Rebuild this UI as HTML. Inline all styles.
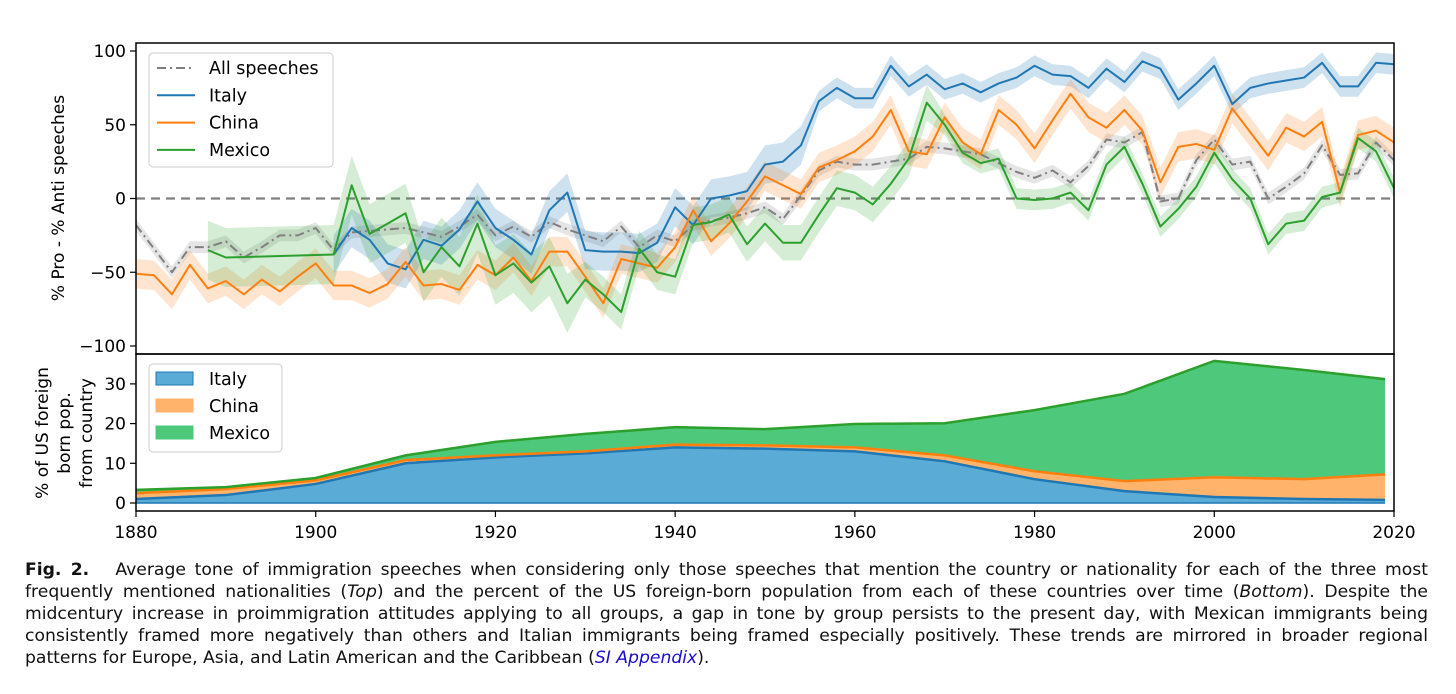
<!DOCTYPE html>
<html><head><meta charset="utf-8"><style>
body{margin:0;background:#fff;width:1456px;height:694px;overflow:hidden;font-family:"DejaVu Sans","Liberation Sans",sans-serif}
.cap{position:absolute;left:25px;width:1403px;font-family:"DejaVu Sans","Liberation Sans",sans-serif;font-size:17.2px;color:#111;text-align:justify;text-align-last:justify;white-space:nowrap;line-height:22px}
.last{text-align-last:left}
</style></head><body>
<svg id="chart" width="1456" height="560" style="position:absolute;left:0;top:0" xmlns="http://www.w3.org/2000/svg"></svg>
<div class="cap" style="top:559px"><b>Fig. 2.</b>&nbsp;&nbsp; Average tone of immigration speeches when considering only those speeches that mention the country or nationality for each of the three most</div>
<div class="cap" style="top:581px">frequently mentioned nationalities (<i>Top</i>) and the percent of the US foreign-born population from each of these countries over time (<i>Bottom</i>). Despite the</div>
<div class="cap" style="top:603px">midcentury increase in proimmigration attitudes applying to all groups, a gap in tone by group persists to the present day, with Mexican immigrants being</div>
<div class="cap" style="top:625px">consistently framed more negatively than others and Italian immigrants being framed especially positively. These trends are mirrored in broader regional</div>
<div class="cap last" style="top:647px">patterns for Europe, Asia, and Latin American and the Caribbean (<i style="color:#1a0dcc">SI Appendix</i>).</div>
<script>
const years=[];for(let y=1880;y<=2020;y+=2)years.push(y);
const allSpeeches=[-18,-34,-50,-33,-33,-29,-40,-33,-25,-25,-20,-35,-23,-22,-21,-20,-23,-26,-19,-11,-25,-19,-26,-16,-21,-25,-29,-19,-33,-25,-29,-18,-15,-13,-10,-6,-14,2,19,25,23,23,25,27,35,34,32,30,24,18,14,19,11,22,40,38,45,-2,0,26,40,23,25,0,8,17,36,16,17,38,26];
const italy=[null,null,null,null,null,null,null,null,null,null,null,-38,-20,-28,-44,-48,-28,-32,-21,-2,-20,-28,-38,-8,4,-35,-36,-36,-37,-30,-6,-18,0,2,5,23,25,36,66,75,68,68,90,76,84,74,78,72,78,82,90,84,83,75,88,79,93,88,67,78,90,64,75,78,80,82,92,76,76,92,91];
const china=[-51,-52,-65,-45,-61,-56,-65,-55,-63,-53,-44,-59,-59,-64,-58,-43,-59,-58,-62,-45,-52,-40,-56,-36,-36,-53,-71,-41,-44,-47,-33,-8,-29,-17,-2,15,9,3,21,26,32,42,60,32,30,55,38,30,60,50,34,53,71,55,48,60,46,11,35,37,33,61,45,29,48,42,52,4,43,46,38];
const mexico=[null,null,null,null,-35,-40,null,null,null,null,null,-38,9,-24,-17,-10,-50,-33,-46,-17,-52,-44,-57,-46,-71,-55,-65,-77,-34,-50,-53,-18,-16,-11,-31,-17,-30,-30,-11,7,4,-4,10,27,65,50,31,24,27,0,-1,0,4,-8,23,35,10,-19,-7,8,31,13,0,-31,-17,-15,1,4,41,32,7];
const popYears=[1880,1890,1900,1910,1920,1930,1940,1950,1960,1970,1980,1990,2000,2010,2019];
const popItaly=[1,2,4.8,10,11.5,12.5,14,13.7,13,10.5,6,3,1.5,1,0.8];
const popChina=[1.5,1.5,0.9,0.8,0.5,0.5,0.7,0.8,1,1.5,2,2.5,5,5,6.4];
const popMexico=[0.8,0.5,0.6,1.2,3.4,4.4,4.4,4.1,5.9,8.1,15.4,22,29.3,27.5,24];
const topTicks=[100,50,0,-50,-100];
const botTicks=[0,10,20,30];
const xTicks=[1880,1900,1920,1940,1960,1980,2000,2020];

const NS='http://www.w3.org/2000/svg';const svg=document.getElementById('chart');
const L=136,R=1394,T=43,M=354,B=511;
const X=y=>L+(y-1880)*(R-L)/140;
const Y=v=>198.5-v*1.475;
const Yb=v=>503-v*3.97;
function mk(tag,at,parent){const e=document.createElementNS(NS,tag);for(const k in at)e.setAttribute(k,at[k]);(parent||svg).appendChild(e);return e;}
function ci(series,yr){if(series==='gray')return 4;if(series==='italy')return yr<1956?13:7;if(series==='china')return 10;return yr<1930?20:(yr<1970?12:7);}
const series=[
 {n:'gray',d:allSpeeches,c:'#7f7f7f',band:'rgba(127,127,127,0.2)',dash:'9,4,2,4'},
 {n:'italy',d:italy,c:'#1f77b4',band:'rgba(31,119,180,0.22)'},
 {n:'china',d:china,c:'#ff7f0e',band:'rgba(255,127,14,0.2)'},
 {n:'mexico',d:mexico,c:'#2ca02c',band:'rgba(44,160,44,0.2)'}];
let z=mk('line',{x1:L,x2:R,y1:Y(0),y2:Y(0),stroke:'#808080','stroke-width':2.2,'stroke-dasharray':'9,6'});


series.forEach(s=>{
 const pts=[];s.d.forEach((v,i)=>{if(v!==null)pts.push([years[i],v]);});
 const up=pts.map(p=>X(p[0])+','+Y(p[1]+ci(s.n,p[0])));
 const dn=pts.slice().reverse().map(p=>X(p[0])+','+Y(p[1]-ci(s.n,p[0])));
 const b=mk('polygon',{points:up.concat(dn).join(' '),fill:s.band});
 
 
});
series.forEach(s=>{
 const pts=[];s.d.forEach((v,i)=>{if(v!==null)pts.push(X(years[i])+','+Y(v));});
 const at={points:pts.join(' '),fill:'none',stroke:s.c,'stroke-width':2,'stroke-linejoin':'round'};
 if(s.dash)at['stroke-dasharray']=s.dash;
 const l=mk('polyline',at);
 
 
});
const t1=popItaly, t2=popItaly.map((v,i)=>v+popChina[i]), t3=t2.map((v,i)=>v+popMexico[i]);
function area(lo,hi,fill,name){const p=popYears.map((y,i)=>X(y)+','+Yb(hi[i])).concat(popYears.slice().reverse().map((y,j)=>{const i=popYears.length-1-j;return X(y)+','+Yb(lo?lo[i]:0);}));
 const a=mk('polygon',{points:p.join(' '),fill:fill});}
area(null,t1,'#5aabd6','italy-area');area(t1,t2,'#ffb36b','china-area');area(t2,t3,'#4ec87a','mexico-area');
[[t1,'#1f77b4','italy'],[t2,'#ff7f0e','china'],[t3,'#2ca02c','mexico']].forEach(a=>{
 const l=mk('polyline',{points:popYears.map((y,i)=>X(y)+','+Yb(a[0][i])).join(' '),fill:'none',stroke:a[1],'stroke-width':2.5});
 
 });
mk('line',{x1:X(1880),x2:X(2019),y1:Yb(0),y2:Yb(0),stroke:'#1f77b4','stroke-width':1.5});
const f1=mk('rect',{x:L,y:T,width:R-L,height:M-T,fill:'none',stroke:'#000','stroke-width':1.5});

const f2=mk('rect',{x:L,y:M,width:R-L,height:B-M,fill:'none',stroke:'#000','stroke-width':1.5});

topTicks.forEach(v=>{mk('line',{x1:L-6,x2:L,y1:Y(v),y2:Y(v),stroke:'#000','stroke-width':1.2});
 const t=mk('text',{x:L-10,y:Y(v)+6,'text-anchor':'end','font-size':17});t.textContent=v<0?'\u2212'+(-v):v;
 });
botTicks.forEach(v=>{mk('line',{x1:L-6,x2:L,y1:Yb(v),y2:Yb(v),stroke:'#000','stroke-width':1.2});
 const t=mk('text',{x:L-10,y:Yb(v)+6,'text-anchor':'end','font-size':17});t.textContent=v;
 });
xTicks.forEach(v=>{mk('line',{x1:X(v),x2:X(v),y1:B,y2:B+6,stroke:'#000','stroke-width':1.2});
 const t=mk('text',{x:X(v),y:B+27,'text-anchor':'middle','font-size':17});t.textContent=v;
 });
function txt(s,at,name){const t=mk('text',at);t.textContent=s;return t;}
txt('% Pro - % Anti speeches',{x:0,y:0,transform:'translate(64,198) rotate(-90)','text-anchor':'middle','font-size':17},'top-y-axis-title');
txt('% of US foreign',{x:0,y:0,transform:'translate(48,433) rotate(-90)','text-anchor':'middle','font-size':17},'bottom-y-axis-title-line1');
txt('born pop.',{x:0,y:0,transform:'translate(70,433) rotate(-90)','text-anchor':'middle','font-size':17},'bottom-y-axis-title-line2');
txt('from country',{x:0,y:0,transform:'translate(92,433) rotate(-90)','text-anchor':'middle','font-size':17},'bottom-y-axis-title-line3');
const lg=mk('rect',{x:149,y:53,width:184,height:114,rx:4,fill:'#fff','fill-opacity':0.85,stroke:'#ccc'});

series.forEach((s,i)=>{const yy=68+i*27.3;const at={x1:157,x2:195,y1:yy,y2:yy,stroke:s.c,'stroke-width':2};if(s.dash)at['stroke-dasharray']=s.dash;mk('line',at);
 txt(['All speeches','Italy','China','Mexico'][i],{x:209,y:yy+6,'font-size':17.5},'legend-entry-'+s.n);});
const lg2=mk('rect',{x:149,y:364,width:133,height:88,rx:4,fill:'#fff','fill-opacity':0.85,stroke:'#ccc'});

[['#5aabd6','#1f77b4','Italy'],['#ffb36b','#ffb36b','China'],['#4ec87a','#4ec87a','Mexico']].forEach((e,i)=>{const yy=379+i*27;
 mk('rect',{x:156,y:yy-7,width:37,height:13,fill:e[0],stroke:e[1]});
 txt(e[2],{x:209,y:yy+6,'font-size':17.5},'bottom-legend-entry-'+e[2].toLowerCase());});
</script>
</body></html>
